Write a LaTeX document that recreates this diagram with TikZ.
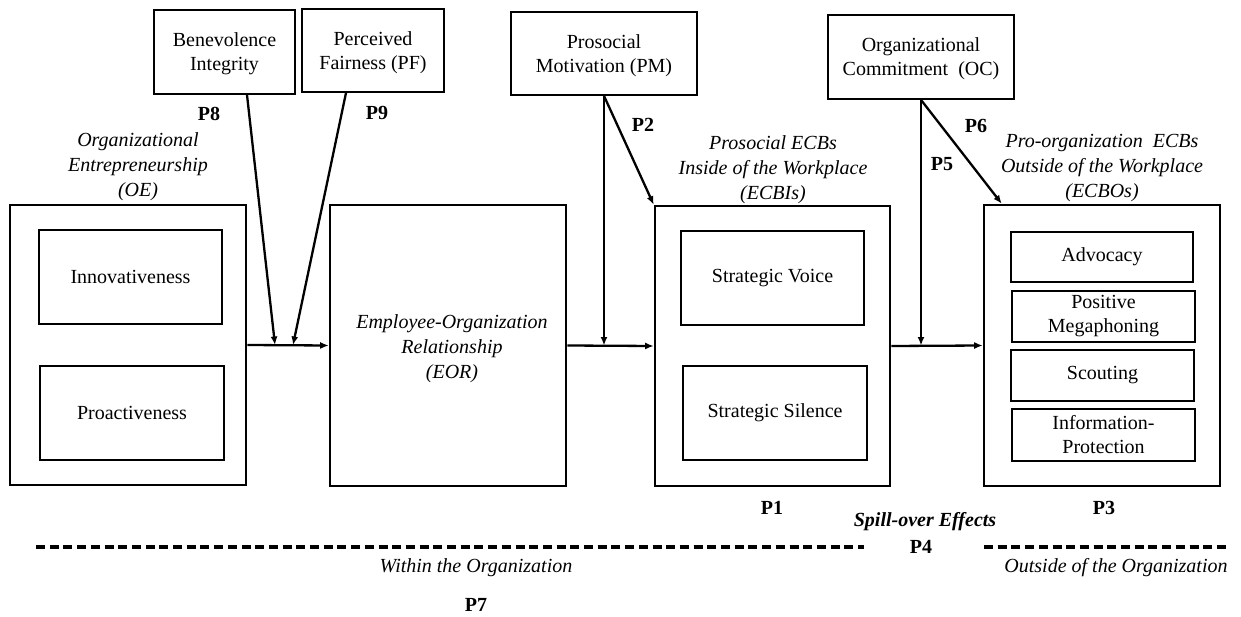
\documentclass[tikz,border=0pt]{standalone}
\usepackage{fontspec}
\setmainfont{Liberation Serif}
\usetikzlibrary{arrows.meta}
\begin{document}
\begin{tikzpicture}[x=1pt,y=-1pt,
  font=\fontsize{20}{24}\selectfont,
  box/.style={draw,line width=1.8pt,inner sep=0pt,align=center,text depth=-3pt},
  outer/.style={draw,line width=2.6pt,inner sep=0pt,align=center},
  inbox/.style={draw,line width=1.5pt,inner sep=0pt,align=center},
  lab/.style={inner sep=0pt,align=center},
  ttl/.style={inner sep=0pt,align=center,font=\fontsize{20}{25}\selectfont\itshape},
  plab/.style={inner sep=0pt,font=\fontsize{20}{24}\selectfont\bfseries},
  conn/.style={line width=2.3pt,-{Latex[length=8.5pt,width=7pt]}},
  dashline/.style={line width=3.3pt,dash pattern=on 9pt off 4.7pt}]
\useasboundingbox (0,0) rectangle (1241,617);
\fill[white] (0,0) rectangle (1241,617);

% top moderator boxes
\node[box,minimum width=141pt,minimum height=84pt] (ben) at (224.5,52) {Benevolence\\Integrity};
\node[box,minimum width=142pt,minimum height=83pt] (pf) at (373,50.5) {Perceived\\Fairness (PF)};
\node[box,minimum width=186pt,minimum height=83pt] (pm) at (604,53.5) {Prosocial\\Motivation (PM)};
\node[box,minimum width=186pt,minimum height=84pt] (oc) at (921,57) {Organizational\\Commitment\ \ (OC)};

% main boxes
\node[outer,minimum width=236pt,minimum height=280pt] (oe) at (128,345) {};
\node[inbox,minimum width=183pt,minimum height=94pt] (inno) at (130.5,277) {Innovativeness};
\node[inbox,minimum width=184pt,minimum height=94pt] (proa) at (132,413) {Proactiveness};

\node[outer,minimum width=236pt,minimum height=281pt] (eor) at (448,345.5) {};
\node[ttl] (eortxt) at (452,349) {Employee-Organization\\Relationship\\(EOR)};

\node[outer,minimum width=235pt,minimum height=280pt] (ecbi) at (772.5,346) {};
\node[inbox,minimum width=183pt,minimum height=94pt] (sv) at (772.5,278) {Strategic Voice};
\node[inbox,minimum width=184pt,minimum height=94pt] (ss) at (775,413) {Strategic Silence};

\node[outer,minimum width=236pt,minimum height=281pt] (ecbo) at (1102,345.5) {};
\node[inbox,minimum width=182pt,minimum height=50pt] (adv) at (1102,257) {Advocacy};
\node[inbox,minimum width=183pt,minimum height=51pt] (pmeg) at (1103.5,316.5) {Positive\\Megaphoning};
\node[inbox,minimum width=183pt,minimum height=51pt] (sco) at (1102.5,375.5) {Scouting};
\node[inbox,minimum width=183pt,minimum height=52pt] (info) at (1103.5,435) {Information-\\Protection};

% titles
\node[ttl] (oettl) at (138,167) {Organizational\\Entrepreneurship\\(OE)};
\node[ttl] (ecbittl) at (773,170) {Prosocial ECBs\\Inside of the Workplace\\(ECBIs)};
\node[ttl] (ecbottl) at (1102,168) {Pro-organization\ \ ECBs\\Outside of the Workplace\\(ECBOs)};

% P labels
\node[plab] (p8) at (209,114) {P8};
\node[plab] (p9) at (377,113) {P9};
\node[plab] (p2) at (643,125) {P2};
\node[plab] (p6) at (976,126) {P6};
\node[plab] (p5) at (942,164) {P5};
\node[plab] (p1) at (772,508) {P1};
\node[plab] (p3) at (1104,508) {P3};
\node[inner sep=0pt,font=\fontsize{20}{24}\selectfont\bfseries\itshape] (spill) at (925,522) {Spill-over Effects};
\node[plab] (p4) at (921,547) {P4};
\node[plab] (p7) at (476,605) {P7};
\node[ttl] (within) at (476,568) {Within the Organization};
\node[ttl] (outside) at (1116,568) {Outside of the Organization};

% dashed boundary lines
\coordinate (dl1) at (36,547);
\coordinate (dl2) at (864,547);
\coordinate (dr1) at (984,547);
\coordinate (dr2) at (1226,547);
\draw[dashline] (dl1) -- (dl2);
\draw[dashline] (dr1) -- (dr2);

% junctions
\coordinate (j8) at (275,345);
\coordinate (j9) at (293,345);
\coordinate (jpm) at (604,345.5);
\coordinate (joc) at (921,345.5);

% connectors
\draw[conn] (oe.east) -- (eor.west);
\draw[conn] (eor.east) -- (ecbi.west);
\draw[conn] (ecbi.east) -- (ecbo.west);
\draw[conn] ([xshift=22.5pt]ben.south) -- (j8);
\draw[conn] ([xshift=-27pt]pf.south) -- (j9);
\draw[conn] (pm.south) -- (jpm);
\draw[conn] (pm.south) -- (ecbi.north west);
\draw[conn] (oc.south) -- (joc);
\draw[conn] (oc.south) -- ([xshift=19pt]ecbo.north west);
\end{tikzpicture}
\end{document}
